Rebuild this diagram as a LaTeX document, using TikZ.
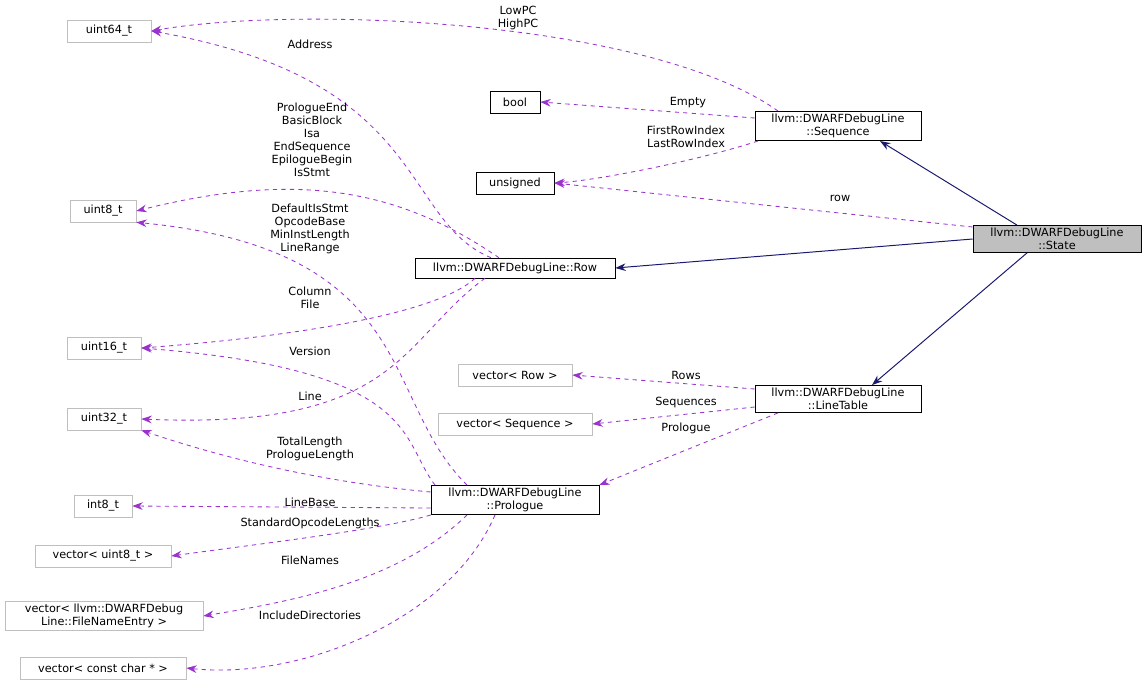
\documentclass[tikz,border=0pt]{standalone}
\usepackage{fontspec}
\setmainfont{DejaVu Sans}
\usetikzlibrary{arrows.meta, positioning}
\definecolor{usecolor}{HTML}{9A32CD}
\definecolor{inhcolor}{HTML}{191970}
\definecolor{boxgray}{HTML}{BFBFBF}

\begin{document}
\begin{tikzpicture}[x=0.025cm, y=-0.025cm, >={Stealth[length=2.6mm, width=1.9mm]},
    every node/.style={font=\fontsize{8}{9.2}\selectfont, align=center, inner sep=2pt},
    cls/.style={draw=black, minimum height=0.55cm},
    ext/.style={draw=boxgray, minimum height=0.55cm},
    use/.style={->, usecolor, dashed, line width=0.6pt},
    inh/.style={->, inhcolor, line width=0.7pt},
    lbl/.style={inner sep=0pt}]
        \useasboundingbox (0,0) rectangle (1147,693);
        % classes
        \node[cls, fill=boxgray, minimum width=4.2cm] (state) at (1057,239) {llvm::DWARFDebugLine\\::State};
        \node[cls, minimum width=4.15cm] (sequence) at (838,126) {llvm::DWARFDebugLine\\::Sequence};
        \node[cls, minimum width=4.15cm] (linetable) at (838,399) {llvm::DWARFDebugLine\\::LineTable};
        \node[cls, minimum width=4.2cm] (prologue) at (515,500) {llvm::DWARFDebugLine\\::Prologue};
        \node[cls, minimum width=5cm, minimum height=0.5cm] (row) at (515,268) {llvm::DWARFDebugLine::Row};
        \node[cls, minimum width=1.25cm] (bool) at (515,102) {bool};
        \node[cls, minimum width=1.95cm] (unsigned) at (515,183) {unsigned};
        % external types
        \node[ext, minimum width=2.1cm] (uint64) at (109,31) {uint64\_t};
        \node[ext, minimum width=1.65cm] (uint8) at (103,211) {uint8\_t};
        \node[ext, minimum width=1.85cm] (uint16) at (104,348) {uint16\_t};
        \node[ext, minimum width=1.85cm] (uint32) at (104,419) {uint32\_t};
        \node[ext, minimum width=1.45cm] (int8) at (103,506) {int8\_t};
        \node[ext, minimum width=3.4cm] (vecuint8) at (103,556) {vector< uint8\_t >};
        \node[ext, minimum width=4.95cm] (vecfile) at (104,616) {vector< llvm::DWARFDebug\\Line::FileNameEntry >};
        \node[ext, minimum width=4.15cm] (veccchar) at (103,668) {vector< const char * >};
        \node[ext, minimum width=2.85cm] (vecrow) at (515,375) {vector< Row >};
        \node[ext, minimum width=3.85cm] (vecseq) at (515,424) {vector< Sequence >};
        % inheritance
        \draw[inh] ([xshift=-1cm]state.north) -- ([xshift=1.05cm]sequence.south);
        \draw[inh] (state.west) -- (row.east);
        \draw[inh] ([xshift=-0.75cm]state.south) -- ([xshift=0.85cm]linetable.north);
        % members
        \draw[use] ([xshift=-1.5cm]sequence.north) .. controls (650,20) and (300,5) .. (uint64.east);
        \draw[use] ([xshift=-0.6cm]row.north) .. controls (400,220) and (430,80) .. (uint64.east);
        \draw[use] ([yshift=0.2cm]sequence.west) -- (bool.east);
        \draw[use] ([xshift=-2cm]sequence.south) .. controls (700,160) and (600,180) .. (unsigned.east);
        \draw[use] ([yshift=0.3cm]state.west) -- (unsigned.east);
        \draw[use] ([xshift=-0.4cm]row.north) .. controls (400,190) and (300,170) .. (uint8.east);
        \draw[use] ([xshift=-1.2cm]prologue.north) .. controls (380,400) and (420,250) .. (uint8.south east);
        \draw[use] ([xshift=-1cm]row.south) .. controls (430,320) and (250,340) .. (uint16.east);
        \draw[use] ([xshift=-2cm]prologue.north) .. controls (400,440) and (420,370) .. (uint16.east);
        \draw[use] ([xshift=-0.75cm]row.south) .. controls (400,340) and (400,430) .. (uint32.east);
        \draw[use] ([yshift=0.2cm]prologue.west) .. controls (300,480) and (200,450) .. (uint32.south east);
        \draw[use] ([yshift=-0.2cm]prologue.west) -- (int8.east);
        \draw[use] (prologue.south west) .. controls (380,530) and (250,545) .. (vecuint8.east);
        \draw[use] ([xshift=-1.2cm]prologue.south) .. controls (400,580) and (300,600) .. (vecfile.east);
        \draw[use] ([xshift=-0.5cm]prologue.south) .. controls (450,620) and (300,680) .. (veccchar.east);
        \draw[use] ([yshift=0.25cm]linetable.west) -- (vecrow.east);
        \draw[use] ([yshift=-0.2cm]linetable.west) -- (vecseq.east);
        \draw[use] ([xshift=-1.5cm]linetable.south) -- (prologue.north east);
        % labels
        \node[lbl] (lowpc) at (518,18) {LowPC\\HighPC};
        \node[lbl] (address) at (310,44) {Address};
        \node[lbl] (empty) at (688,103) {Empty};
        \node[lbl] (firstrow) at (686,137) {FirstRowIndex\\LastRowIndex};
        \node[lbl] (rowlbl) at (840,198) {row};
        \node[lbl] (rowflags) at (312,140) {PrologueEnd\\BasicBlock\\Isa\\EndSequence\\EpilogueBegin\\IsStmt};
        \node[lbl] (prolflags) at (310,229) {DefaultIsStmt\\OpcodeBase\\MinInstLength\\LineRange};
        \node[lbl] (column) at (310,298) {Column\\File};
        \node[lbl] (version) at (310,351) {Version};
        \node[lbl] (line) at (310,396) {Line};
        \node[lbl] (totallen) at (310,449) {TotalLength\\PrologueLength};
        \node[lbl] (linebase) at (310,502) {LineBase};
        \node[lbl] (stdop) at (310,523) {StandardOpcodeLengths};
        \node[lbl] (filenames) at (310,560) {FileNames};
        \node[lbl] (incdirs) at (310,615) {IncludeDirectories};
        \node[lbl] (rows) at (686,375) {Rows};
        \node[lbl] (seqs) at (686,402) {Sequences};
        \node[lbl] (prollbl) at (686,428) {Prologue};
\end{tikzpicture}
\end{document}
